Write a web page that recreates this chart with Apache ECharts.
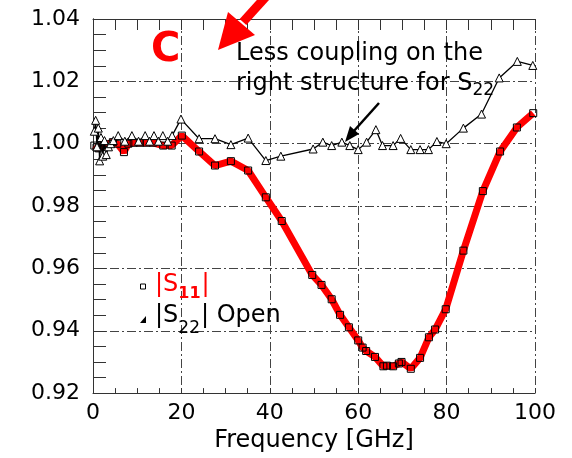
<!DOCTYPE html>
<html><head><meta charset="utf-8">
<script src="https://cdn.jsdelivr.net/npm/echarts@6/dist/echarts.min.js"></script>
<style>html,body{margin:0;padding:0;background:#fff}#c{width:572px;height:458px}</style>
</head><body><div id="c"></div>
<script>
// ---- data ----
const freqS11 = [0.3,0.8,1.3,1.8,2.5,3.2,4.5,5.5,7.0,8.0,9.2,10.6,12.1,13.6,15.9,17.8,20.1,24.0,27.6,31.2,35.1,39.1,42.7,49.6,51.7,54.0,55.9,57.9,60.0,61.0,61.8,63.8,65.7,66.5,67.9,69.2,69.8,71.9,74.0,76.0,77.4,79.8,83.8,88.2,92.1,95.9,99.6];
const magS11  = [0.9994,0.9988,0.9985,0.9994,0.9990,0.9998,1.0005,1.0000,0.9973,1.0000,1.0003,1.0003,1.0003,1.0003,0.9994,0.9994,1.0026,0.9975,0.9930,0.9944,0.9914,0.9828,0.9752,0.9579,0.9547,0.9501,0.9451,0.9411,0.9369,0.9346,0.9335,0.9316,0.9286,0.9288,0.9286,0.9295,0.9300,0.9278,0.9313,0.9379,0.9404,0.9469,0.9657,0.9848,0.9975,1.0052,1.0098];
const freqS22 = [0.3,0.6,0.9,1.2,1.5,1.8,2.2,2.6,3.0,3.5,4.0,4.6,5.7,7.2,8.8,10.3,11.8,12.8,13.8,14.8,15.8,16.9,17.9,19.9,24.0,27.6,31.2,35.1,39.1,42.5,49.8,52.0,54.0,56.3,58.1,60.0,61.9,64.0,65.5,67.9,69.6,71.9,74.0,75.9,77.8,79.9,83.8,87.9,91.9,96.0,99.5];
const magS22  = [1.0040,1.0075,0.9990,1.0050,0.9945,1.0020,0.9960,1.0010,0.9965,0.9990,1.0000,1.0010,1.0026,1.0008,1.0026,1.0008,1.0026,1.0008,1.0026,1.0008,1.0026,1.0008,1.0026,1.0079,1.0016,1.0016,0.9997,1.0018,0.9946,0.9960,0.9983,1.0005,0.9994,1.0005,0.9994,0.9981,1.0005,1.0045,0.9994,0.9994,1.0017,0.9981,0.9981,0.9981,1.0007,1.0000,1.0050,1.0095,1.0211,1.0264,1.0251];
const xRange = [0, 100];
const yRange = [0.92, 1.04];
const xStep = 20;
const yStep = 0.02;
const xName = 'Frequency [GHz]';
const legendS11 = ['|S', '11', '|'];
const legendS22 = ['|S', '22', '| Open'];
const noteLine1 = 'Less coupling on the';
const noteLine2 = ['right structure for S', '22'];
const panelLabel = 'C';

// ---- rendering ----
const FF = '"DejaVu Sans", sans-serif';
const DASH = [9, 3, 2, 3];
const mctx = document.createElement('canvas').getContext('2d');
function tw(font, t) { mctx.font = font; return mctx.measureText(t).width; }
function txt(x, y, text, size, fill, weight) {
  const font = (weight || 'normal') + ' ' + size + 'px ' + FF;
  return { type: 'text', x: x, y: y, z: 100,
    style: { text: text, font: font, fill: fill, align: 'left', verticalAlign: 'middle' } };
}
function subLabel(x, y, parts, big, small, subDy, fill, subWeight) {
  const els = [];
  const f1 = 'normal ' + big + 'px ' + FF;
  const f2 = (subWeight || 'normal') + ' ' + small + 'px ' + FF;
  els.push(txt(x, y, parts[0], big, fill));
  let cx = x + tw(f1, parts[0]);
  els.push(txt(cx, y + subDy, parts[1], small, fill, subWeight));
  cx += tw(f2, parts[1]);
  if (parts[2]) els.push(txt(cx + 1, y, parts[2], big, fill));
  return els;
}

const axisLineStyle = { color: '#333', width: 1 };
const chart = echarts.init(document.getElementById('c'), null, { renderer: 'canvas' });

const graphics = [];
// panel letter
graphics.push(txt(151, 51, panelLabel, 40, '#ff0000', 'bold'));
// red arrow
graphics.push({ type: 'line', z: 100, shape: { x1: 243, y1: 22, x2: 272, y2: -10 }, style: { stroke: '#ff0000', lineWidth: 9 } });
graphics.push({ type: 'polygon', z: 100, shape: { points: [[218, 50], [228, 12], [255, 35]] }, style: { fill: '#ff0000' } });
// annotation
graphics.push(txt(236, 54, noteLine1, 24, '#000'));
subLabel(236, 84, noteLine2, 24, 17, 7, '#000').forEach(e => graphics.push(e));
// black arrow
graphics.push({ type: 'line', z: 100, shape: { x1: 353, y1: 132, x2: 379, y2: 103 }, style: { stroke: '#000', lineWidth: 2.5 } });
graphics.push({ type: 'polygon', z: 100, shape: { points: [[345, 142], [359, 134], [350, 126]] }, style: { fill: '#000' } });
// legend
graphics.push({ type: 'rect', z: 100, shape: { x: 140.5, y: 284, width: 5, height: 5 }, style: { fill: '#fff', stroke: '#000', lineWidth: 1 } });
subLabel(155, 285, legendS11, 24, 16, 9, '#ff0000', 'bold').forEach(e => graphics.push(e));
graphics.push({ type: 'polygon', z: 100, shape: { points: [[140, 323], [146, 323], [146, 316]] }, style: { fill: '#000' } });
subLabel(155, 316, legendS22, 24, 17, 13, '#000').forEach(e => graphics.push(e));

chart.setOption({
  animation: false,
  backgroundColor: '#fff',
  grid: { left: 93, right: 37, top: 19, bottom: 62, containLabel: false },
  xAxis: [{
    type: 'value', min: xRange[0], max: xRange[1], interval: xStep, position: 'bottom',
    name: xName, nameLocation: 'middle', nameGap: 32,
    nameTextStyle: { fontFamily: FF, fontSize: 24, color: '#000' },
    axisLine: { show: true, lineStyle: axisLineStyle },
    axisTick: { show: true, inside: true, length: 5, lineStyle: axisLineStyle },
    minorTick: { show: true, splitNumber: 4, length: 5, lineStyle: axisLineStyle },
    axisLabel: { fontFamily: FF, fontSize: 22, color: '#000', margin: 9 },
    splitLine: { show: true, lineStyle: { color: '#444', width: 1, type: DASH } }
  }, {
    type: 'value', min: xRange[0], max: xRange[1], interval: xStep, position: 'top',
    axisLine: { show: true, lineStyle: axisLineStyle },
    axisTick: { show: true, inside: true, length: 11, lineStyle: axisLineStyle },
    minorTick: { show: true, splitNumber: 4, length: 11, lineStyle: axisLineStyle },
    axisLabel: { show: false }, splitLine: { show: false }
  }],
  yAxis: [{
    type: 'value', min: yRange[0], max: yRange[1], interval: yStep, position: 'left',
    axisLine: { show: true, lineStyle: axisLineStyle },
    axisTick: { show: true, inside: true, length: 13, lineStyle: axisLineStyle },
    minorTick: { show: true, splitNumber: 4, length: 13, lineStyle: axisLineStyle },
    axisLabel: { fontFamily: FF, fontSize: 22, color: '#000', margin: 13, formatter: v => v.toFixed(2) },
    splitLine: { show: true, lineStyle: { color: '#444', width: 1, type: DASH } }
  }, {
    type: 'value', min: yRange[0], max: yRange[1], interval: yStep, position: 'right',
    axisLine: { show: true, lineStyle: axisLineStyle },
    axisTick: { show: false }, axisLabel: { show: false }, splitLine: { show: false }
  }],
  series: [{
    name: '|S11|', type: 'line', xAxisIndex: 0, yAxisIndex: 0,
    data: freqS11.map((f, i) => [f, magS11[i]]),
    symbol: 'rect', symbolSize: 7, showSymbol: true,
    lineStyle: { color: '#ff0000', width: 7 },
    itemStyle: { color: 'rgba(0,0,0,0)', borderColor: '#000', borderWidth: 1 },
    z: 3
  }, {
    name: '|S22| Open', type: 'line', xAxisIndex: 0, yAxisIndex: 0,
    data: freqS22.map((f, i) => [f, magS22[i]]),
    symbol: 'triangle', symbolSize: 8, showSymbol: true,
    lineStyle: { color: '#000', width: 1.3 },
    itemStyle: { color: '#fff', borderColor: '#000', borderWidth: 1 },
    z: 4
  }],
  graphic: graphics
});
</script>
</body></html>
